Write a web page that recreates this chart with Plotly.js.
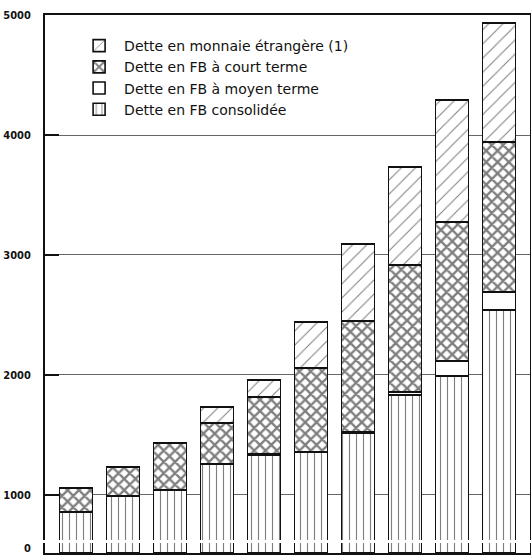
<!DOCTYPE html>
<html>
<head>
<meta charset="utf-8">
<script src="https://cdn.plot.ly/plotly-3.0.1.min.js"></script>
<style>html,body{margin:0;padding:0;background:#fff;}#chart{width:531px;height:558px;}</style>
</head>
<body>
<div id="chart"></div>
<script>
// Bar positions (ten successive periods, unlabeled in the source)
const categories = [1, 2, 3, 4, 5, 6, 7, 8, 9, 10];

// Series values
const detteConsolidee   = [858, 992, 1042, 1258, 1333, 1360, 1515, 1833, 1992, 2542];
const detteMoyenTerme   = [0, 0, 0, 0, 10, 0, 12, 25, 125, 150];
const detteCourtTerme   = [200, 241, 391, 342, 474, 698, 923, 1059, 1158, 1250];
const detteEtrangere    = [0, 0, 0, 133, 141, 384, 642, 816, 1017, 991];

const seriesNames = [
  "Dette en FB consolidée",
  "Dette en FB à moyen terme",
  "Dette en FB à court terme",
  "Dette en monnaie étrangère (1)"
];
const seriesValues = [detteConsolidee, detteMoyenTerme, detteCourtTerme, detteEtrangere];

const yTickVals = [1000, 2000, 3000, 4000, 5000];
const yTickText = ["1000", "2000", "3000", "4000", "5000"];
const yTickValsLow = [0];
const yTickTextLow = ["0"];

const patterns = [
  {shape: "|", size: 7, solidity: 0.16},
  {shape: "", size: 8, solidity: 0.2},
  {shape: "x", size: 8, solidity: 0.5},
  {shape: "/", size: 10, solidity: 0.1}
];

const traces = [];
[["x", "y", true], ["x2", "y2", false]].forEach(([xa, ya, leg]) => {
  seriesValues.forEach((vals, i) => {
    traces.push({
      type: "bar",
      x: categories,
      y: vals,
      name: seriesNames[i],
      xaxis: xa,
      yaxis: ya,
      showlegend: leg,
      legendgroup: "g" + i,
      width: 0.7,
      marker: {
        color: "#ffffff",
        line: {color: "#111111", width: 1.6},
        pattern: {
          shape: patterns[i].shape,
          size: patterns[i].size,
          solidity: patterns[i].solidity,
          fgcolor: "#000000",
          bgcolor: "#ffffff",
          fillmode: "overlay"
        }
      },
      hoverinfo: "y+name"
    });
  });
});

const tickFont = {family: "DejaVu Sans Condensed, DejaVu Sans, sans-serif", size: 11, color: "#111", weight: "bold"};

const layout = {
  width: 531,
  height: 558,
  margin: {l: 45, r: 1, t: 15, b: 5, pad: 0},
  paper_bgcolor: "#ffffff",
  plot_bgcolor: "#ffffff",
  barmode: "stack",
  showlegend: true,
  legend: {
    x: 0.06, y: 0.972, xanchor: "left", yanchor: "top",
    traceorder: "reversed",
    bgcolor: "rgba(0,0,0,0)",
    borderwidth: 0,
    itemwidth: 40,
    tracegroupgap: 0,
    font: {family: "DejaVu Sans, sans-serif", size: 14, color: "#111"}
  },
  xaxis: {
    domain: [0, 1], range: [0.34, 10.66], anchor: "y", side: "top",
    showline: true, linecolor: "#111", linewidth: 2,
    showticklabels: false, ticks: "", showgrid: false, zeroline: false, fixedrange: true
  },
  xaxis2: {
    domain: [0, 1], range: [0.34, 10.66], anchor: "y2",
    showline: true, linecolor: "#111", linewidth: 2,
    showticklabels: false, ticks: "", showgrid: false, zeroline: false, fixedrange: true
  },
  yaxis: {
    domain: [0.0242, 1], range: [625, 5000], anchor: "x",
    tickmode: "array", tickvals: yTickVals, ticktext: yTickText,
    ticks: "inside", ticklen: 14, tickwidth: 1.5, tickcolor: "#111",
    ticklabelstandoff: 10,
    tickfont: tickFont,
    showline: true, mirror: true, linecolor: "#111", linewidth: 2,
    showgrid: true, gridcolor: "#666", gridwidth: 1, zeroline: false, fixedrange: true
  },
  yaxis2: {
    domain: [0, 0.0186], range: [0, 100], anchor: "x2",
    tickmode: "array", tickvals: yTickValsLow, ticktext: yTickTextLow,
    ticks: "", ticklabelstandoff: 10, ticklabelshift: -5,
    tickfont: tickFont,
    showline: true, mirror: true, linecolor: "#111", linewidth: 2,
    showgrid: false, zeroline: false, fixedrange: true
  }
};

Plotly.newPlot("chart", traces, layout, {displayModeBar: false, staticPlot: true});
</script>
</body>
</html>
